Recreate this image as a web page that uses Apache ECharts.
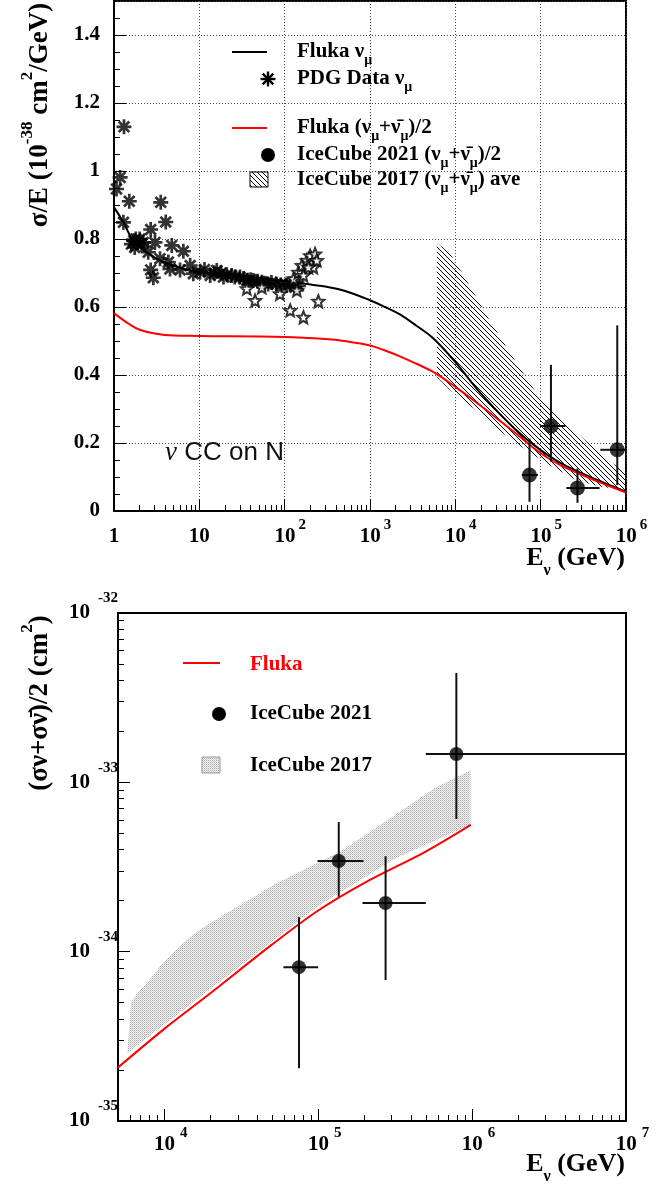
<!DOCTYPE html>
<html><head><meta charset="utf-8">
<script src="https://cdn.jsdelivr.net/npm/echarts@6/dist/echarts.min.js"></script>
<style>html,body{margin:0;padding:0;background:#fff}#c{width:672px;height:1184px}</style>
</head><body><div id="c"></div>
<script>
// ================= DATA =================
// --- Top panel: sigma/E in 1e-38 cm^2/GeV vs E (GeV) ---
const flukaNumuE   = [1, 1.29, 1.68, 2.41, 3.46, 4.96, 10, 36, 127, 217, 300, 500, 1000, 1500, 2240, 3500, 5500, 1e4, 2e4, 5e4, 1e5, 2e5, 1e6];
const flukaNumuSig = [0.893, 0.849, 0.795, 0.761, 0.737, 0.722, 0.702, 0.69, 0.673, 0.665, 0.66, 0.648, 0.62, 0.60, 0.578, 0.545, 0.508, 0.438, 0.345, 0.241, 0.179, 0.132, 0.057];
const flukaAvgE    = [1, 1.5, 2, 3, 5, 10, 100, 300, 500, 1000, 1500, 2240, 3500, 5500, 1e4, 2e4, 5e4, 1e5, 2e5, 1e6];
const flukaAvgSig  = [0.582, 0.55, 0.533, 0.522, 0.516, 0.515, 0.512, 0.506, 0.50, 0.487, 0.472, 0.455, 0.433, 0.409, 0.365, 0.309, 0.23, 0.17, 0.126, 0.054];

const pdgStarE = [1.07,1.18,1.31,1.51,1.29,3.53,4.04,2.69,1.6,1.7,1.8,1.9,2.0,2.1,2.2,1.75,3.02,4.75,6.5,2.52,2.69,2.89,3.46,4.33,4.53,5.94,7.8,8.5,
  10.2,11.5,13.4,15,16,18,19.2,21,23.9,26,30,33,36,40,43,48,54,58,64,70,80,90,106,115,132,145];
const pdgStarV = [0.947,0.981,1.13,0.911,0.849,0.908,0.85,0.828,0.785,0.795,0.80,0.79,0.80,0.785,0.79,0.775,0.79,0.781,0.764,0.761,0.709,0.686,0.742,0.732,0.712,0.709,0.722,0.698,
  0.702,0.71,0.693,0.70,0.707,0.70,0.688,0.695,0.693,0.688,0.688,0.684,0.678,0.68,0.678,0.676,0.673,0.67,0.668,0.672,0.668,0.665,0.663,0.668,0.658,0.662];

const pdgOpenE = [36,45,54,88,116,139,166,127,145,159,182,199,227,217,238,248,190,166];
const pdgOpenV = [0.654,0.619,0.658,0.639,0.590,0.649,0.570,0.683,0.702,0.722,0.737,0.751,0.756,0.717,0.737,0.617,0.717,0.693];

const ic21E        = [7.4e4, 1.32e5, 2.7e5, 7.9e5];
const ic21SigE     = [0.106, 0.25, 0.068, 0.18];
const ic21SigELow  = [0.027, 0.145, 0.024, 0.076];
const ic21SigEHigh = [0.213, 0.43, 0.125, 0.546];
const ic21ELow     = [6.0e4, 9.8e4, 2.0e5, 5.0e5];
const ic21EHigh    = [9.3e4, 1.95e5, 4.9e5, 1.0e6];

const ic17UpE = [6070, 8700, 11900, 18600, 24500, 42000, 52700, 98600, 2.0e5, 5.0e5, 1e6];
const ic17UpV = [0.79, 0.756, 0.702, 0.619, 0.566, 0.473, 0.434, 0.331, 0.257, 0.169, 0.11];
const ic17LoE = [6070, 8700, 18600, 36600, 68000, 1.26e5, 2.6e5, 5e5, 1e6];
const ic17LoV = [0.394, 0.355, 0.291, 0.228, 0.179, 0.135, 0.091, 0.071, 0.062];

// --- Bottom panel: (sigma_nu+sigma_nubar)/2 in units of 1e-38 cm^2 vs E (GeV) ---
const botFlukaE   = [5000, 1e4, 2e4, 5e4, 1e5, 2e5, 5e5, 9.8e5];
const botFlukaSig = [2070, 3500, 5700, 11000, 17500, 25500, 39000, 56000];

const botBandUpE = [6070, 6600, 7980, 9500, 11900, 15000, 19630, 32280, 53330, 97050, 144500, 352400, 579400, 977000];
const botBandUpV = [4955, 5600, 6790, 8300, 10210, 12400, 14690, 19280, 25290, 33190, 39810, 68550, 93330, 118000];
const botBandLoE = [5750, 10000, 31620, 100000, 316200, 977000];
const botBandLoV = [2512, 3715, 8318, 18620, 35480, 56230];

const botIcE       = [7.5e4, 1.36e5, 2.74e5, 7.9e5];
const botIcSig     = [8100, 34300, 19400, 147000];
const botIcSigLow  = [2050, 21100, 6790, 60700];
const botIcSigHigh = [16000, 58200, 36600, 442600];
const botIcELow    = [5.94e4, 9.9e4, 1.94e5, 5.0e5];
const botIcEHigh   = [1.0e5, 1.97e5, 5.0e5, 1e7];

// --- tick labels ---
const topXTickBase = ['1','10','10','10','10','10','10'];
const topXTickExp  = ['', '', '2','3','4','5','6'];
const topYTickLabels = ['0','0.2','0.4','0.6','0.8','1','1.2','1.4'];
const botXTickExp = {4:'4', 5:'5', 6:'6', 7:'7'};
const botYTickExp = {3:'-35', 4:'-34', 5:'-33', 6:'-32'};

// ================= STYLE HELPERS =================
const SERIF = '"Liberation Serif","Times New Roman",serif';
const SANS = '"Liberation Sans",Arial,sans-serif';

function hatchCanvas(){
  const c = document.createElement('canvas'); c.width = 5; c.height = 5;
  const g = c.getContext('2d');
  g.strokeStyle = '#000'; g.lineWidth = 1;
  g.beginPath();
  g.moveTo(-1,-1); g.lineTo(6,6);
  g.moveTo(4,-1); g.lineTo(6,1);
  g.moveTo(-1,4); g.lineTo(1,6);
  g.stroke();
  return c;
}
function dotCanvas(){
  const c = document.createElement('canvas'); c.width = 2; c.height = 2;
  const g = c.getContext('2d');
  g.fillStyle = '#f4f4f4'; g.fillRect(0,0,2,2);
  g.fillStyle = '#a8a8a8'; g.fillRect(0,0,1,1);
  g.fillStyle = '#cfcfcf'; g.fillRect(1,1,1,1);
  return c;
}
const HATCH = {image: hatchCanvas(), repeat: 'repeat'};
const DOTS = {image: dotCanvas(), repeat: 'repeat'};

const ASTERISK = 'path://M-1.8,-10L1.8,-10L1.8,10L-1.8,10Z M-10,-1.8L10,-1.8L10,1.8L-10,1.8Z M-8.344,-5.798L-5.798,-8.344L8.344,5.798L5.798,8.344Z M-5.798,8.344L-8.344,5.798L5.798,-8.344L8.344,-5.798Z';
const OPENSTAR = 'path://M0,-10L2.6,-3.6L9.51,-3.09L4.2,1.4L5.88,8.09L0,4.5L-5.88,8.09L-4.2,1.4L-9.51,-3.09L-2.6,-3.6Z';

const zip = (a,b) => a.map((v,i)=>[v,b[i]]);

function bandSeries(xi, yi, upE, upV, loE, loV, fill){
  return {
    type:'custom', xAxisIndex:xi, yAxisIndex:yi, silent:true, z:1,
    data: zip(upE, upV),
    renderItem(params, api){
      if (params.dataIndex !== 0) return null;
      const pts = upE.map((e,i)=>api.coord([e, upV[i]]));
      const lo = loE.map((e,i)=>api.coord([e, loV[i]])).reverse();
      return {type:'polygon', shape:{points: pts.concat(lo)}, style:{fill: fill, stroke: null}};
    }
  };
}
function errSeries(xi, yi, E, V, VL, VH, EL, EH){
  return {
    type:'custom', xAxisIndex:xi, yAxisIndex:yi, silent:true, z:4,
    data: E.map((e,i)=>[e, V[i], VL[i], VH[i], EL[i], EH[i]]),
    encode:{x:[0,4,5], y:[1,2,3]},
    renderItem(params, api){
      const x = api.value(0), y = api.value(1);
      const lo = api.coord([x, api.value(2)]), hi = api.coord([x, api.value(3)]);
      const l = api.coord([api.value(4), y]), r = api.coord([api.value(5), y]);
      const st = {stroke:'#111', lineWidth:2};
      return {type:'group', children:[
        {type:'line', shape:{x1:lo[0],y1:lo[1],x2:hi[0],y2:hi[1]}, style:st},
        {type:'line', shape:{x1:l[0],y1:l[1],x2:r[0],y2:r[1]}, style:st}
      ]};
    }
  };
}

const log10 = Math.log10;
function minorLog(a, b){ // minor tick positions (in log10 space) between decades a..b
  const out = [];
  for (let d=a; d<b; d++) for (let k=2; k<=9; k++) out.push(d + log10(k));
  return out;
}
const dotted = {type:[1,2], color:'#444', width:1};
const blackLine = {color:'#000', width:2};

// label rich styles (token 'height' + verticalAlign top -> controls vertical centre)
const axRich = {
  n:{fontFamily:SERIF, fontWeight:'bold', fontSize:21, height:30, verticalAlign:'top', color:'#000'},
  p:{fontFamily:SERIF, fontWeight:'bold', fontSize:15, height:6, verticalAlign:'top', color:'#000', padding:[0,0,0,3]},
  sp:{width:11, height:30, verticalAlign:'top'}
};
const axRichB = {
  n:{fontFamily:SERIF, fontWeight:'bold', fontSize:21, height:30, verticalAlign:'top', color:'#000'},
  p:{fontFamily:SERIF, fontWeight:'bold', fontSize:15, height:6, verticalAlign:'top', color:'#000', padding:[0,0,0,5]},
  sp:{width:13, height:30, verticalAlign:'top'}
};
const ayRichB = {
  n:{fontFamily:SERIF, fontWeight:'bold', fontSize:21, height:30, verticalAlign:'top', color:'#000'},
  p:{fontFamily:SERIF, fontWeight:'bold', fontSize:15, height:1, verticalAlign:'top', color:'#000', padding:[0,0,0,8]}
};

// ================= CHART =================
const chart = echarts.init(document.getElementById('c'), null, {renderer:'canvas'});

const legRich = {
  n:{fontFamily:SERIF, fontWeight:'bold', fontSize:21, height:24, verticalAlign:'top', fill:'#000'},
  s:{fontFamily:SERIF, fontWeight:'bold', fontSize:14, height:40, verticalAlign:'top', fill:'#000'},
  r:{fontFamily:SERIF, fontWeight:'bold', fontSize:21, height:24, verticalAlign:'top', fill:'#ff0000'}
};
function legText(x, yc, text){
  return {type:'text', x:x, y:yc-12, z:100, style:{text:text, rich:legRich, fill:'#000', align:'left', verticalAlign:'top'}};
}
function asteriskLines(cx, cy, r){
  const d = r*0.7071, st = {stroke:'#000', lineWidth:2.4};
  return [
    {type:'line', z:100, shape:{x1:cx-r,y1:cy,x2:cx+r,y2:cy}, style:st},
    {type:'line', z:100, shape:{x1:cx,y1:cy-r,x2:cx,y2:cy+r}, style:st},
    {type:'line', z:100, shape:{x1:cx-d,y1:cy-d,x2:cx+d,y2:cy+d}, style:st},
    {type:'line', z:100, shape:{x1:cx-d,y1:cy+d,x2:cx+d,y2:cy-d}, style:st}
  ];
}
const titleRich = {
  t:{fontFamily:SERIF, fontWeight:'bold', fontSize:27, height:30, verticalAlign:'top', fill:'#000'},
  p:{fontFamily:SERIF, fontWeight:'bold', fontSize:17, height:6, verticalAlign:'top', fill:'#000'}
};
const xTitleRich = {
  t:{fontFamily:SERIF, fontWeight:'bold', fontSize:26, height:30, verticalAlign:'top', fill:'#000'},
  s:{fontFamily:SERIF, fontWeight:'bold', fontSize:16, height:56, verticalAlign:'top', fill:'#000'}
};

const graphics = [
  // top legend
  {type:'line', z:100, shape:{x1:232,y1:52,x2:267,y2:52}, style:{stroke:'#000', lineWidth:2}},
  ...asteriskLines(268, 79, 7.5),
  {type:'line', z:100, shape:{x1:232,y1:128,x2:267,y2:128}, style:{stroke:'#ff0000', lineWidth:2}},
  {type:'circle', z:100, shape:{cx:268, cy:155, r:7}, style:{fill:'#000'}},
  {type:'rect', z:100, shape:{x:250, y:172, width:18, height:15}, style:{fill:HATCH, stroke:'#000', lineWidth:1}},
  legText(297, 52, '{n|Fluka ν}{s|μ}'),
  legText(297, 79, '{n|PDG Data ν}{s|μ}'),
  legText(297, 128, '{n|Fluka (ν}{s|μ}{n|+ν\u0304}{s|μ}{n|)/2}'),
  legText(297, 155, '{n|IceCube 2021 (ν}{s|μ}{n|+ν\u0304}{s|μ}{n|)/2}'),
  legText(297, 180, '{n|IceCube 2017 (ν}{s|μ}{n|+ν\u0304}{s|μ}{n|) ave}'),
  // bottom legend
  {type:'line', z:100, shape:{x1:183,y1:663,x2:220,y2:663}, style:{stroke:'#ff0000', lineWidth:2}},
  {type:'circle', z:100, shape:{cx:219, cy:714, r:7}, style:{fill:'#000'}},
  {type:'rect', z:100, shape:{x:202, y:757, width:18, height:16}, style:{fill:DOTS, stroke:'#999', lineWidth:1}},
  legText(250, 665, '{r|Fluka}'),
  legText(250, 714, '{n|IceCube 2021}'),
  legText(250, 766, '{n|IceCube 2017}'),
  // axis titles
  {type:'text', z:100, x:40, y:115, rotation:Math.PI/2,
   style:{text:'{t|σ/E (10}{p|-38}{t| cm}{p|2}{t|/GeV)}', rich:titleRich, align:'center', verticalAlign:'middle', fill:'#000'}},
  {type:'text', z:100, x:40, y:703, rotation:Math.PI/2,
   style:{text:'{t|(σν+σν\u0304)/2 (cm}{p|2}{t|)}', rich:titleRich, align:'center', verticalAlign:'middle', fill:'#000'}},
  {type:'text', z:100, x:625, y:558-15,
   style:{text:'{t|E}{s|ν}{t| (GeV)}', rich:xTitleRich, align:'right', verticalAlign:'top', fill:'#000'}},
  {type:'text', z:100, x:625, y:1164-15,
   style:{text:'{t|E}{s|ν}{t| (GeV)}', rich:xTitleRich, align:'right', verticalAlign:'top', fill:'#000'}},
  // annotation
  {type:'text', z:100, x:165, y:453,
   style:{text:'{g|ν}{c| CC on N}', rich:{
     g:{fontFamily:SERIF, fontStyle:'italic', fontSize:27, fill:'#111'},
     c:{fontFamily:SANS, fontSize:26, fill:'#111'}},
     align:'left', verticalAlign:'middle', fill:'#111'}}
];

const option = {
  animation:false,
  backgroundColor:'#fff',
  grid:[
    {left:114, top:1, width:512, height:510, show:true, borderColor:'#000', borderWidth:2},
    {left:118, top:613, width:508, height:508, show:true, borderColor:'#000', borderWidth:2}
  ],
  xAxis:[
    {gridIndex:0, type:'log', logBase:10, min:1, max:1e6, splitNumber:6, position:'bottom',
     axisLine:{show:true, onZero:false, lineStyle:blackLine},
     axisTick:{show:true, inside:true, length:12, lineStyle:{color:'#000', width:1}},
     splitLine:{show:true, lineStyle:dotted},
     axisLabel:{interval:0, margin:11, color:'#000', fontFamily:SERIF, fontWeight:'bold', fontSize:21,
       formatter:(v)=>{ const lk = log10(v), k = Math.round(lk); if (Math.abs(lk-k)>0.01) return '';
         const e = topXTickExp[k]; return e ? `{sp| }{n|${topXTickBase[k]}}{p|${e}}` : `{n|${topXTickBase[k]}}`; },
       rich:axRich}},
    {gridIndex:0, type:'value', min:0, max:6, position:'bottom',
     axisLine:{show:false, onZero:false}, axisLabel:{show:false}, splitLine:{show:false},
     axisTick:{show:true, inside:true, length:6, lineStyle:{color:'#000', width:1}, customValues:minorLog(0,6)}},
    {gridIndex:1, type:'log', logBase:10, min:5000, max:1e7, splitNumber:3, position:'bottom',
     axisLine:{show:true, onZero:false, lineStyle:blackLine},
     axisTick:{show:true, inside:true, length:12, lineStyle:{color:'#000', width:1}},
     splitLine:{show:false},
     axisLabel:{interval:0, margin:9, color:'#000', fontFamily:SERIF, fontWeight:'bold', fontSize:21,
       formatter:(v)=>{ const lk = log10(v), k = Math.round(lk); if (Math.abs(lk-k)>0.01 || !botXTickExp[k]) return '';
         return `{sp| }{n|10}{p|${botXTickExp[k]}}`; },
       rich:axRichB}},
    {gridIndex:1, type:'value', min:log10(5000), max:7, position:'bottom',
     axisLine:{show:false, onZero:false}, axisLabel:{show:false}, splitLine:{show:false},
     axisTick:{show:true, inside:true, length:6, lineStyle:{color:'#000', width:1}, customValues:minorLog(3,7).filter(v=>v>log10(5000)+1e-6)}}
  ],
  yAxis:[
    {gridIndex:0, type:'value', min:0, max:1.5, interval:0.2, position:'left',
     axisLine:{show:true, onZero:false, lineStyle:blackLine},
     axisTick:{show:true, inside:true, length:12, lineStyle:{color:'#000', width:1}},
     splitLine:{show:true, lineStyle:dotted},
     axisLabel:{showMaxLabel:false, margin:14, color:'#000', fontFamily:SERIF, fontWeight:'bold', fontSize:21,
       formatter:(v)=>{ const i = Math.round(v/0.2); return (Math.abs(v/0.2-i)<1e-6 && topYTickLabels[i]) ? topYTickLabels[i] : ''; }}},
    {gridIndex:0, type:'value', min:0, max:1.5, position:'left',
     axisLine:{show:false, onZero:false}, axisLabel:{show:false}, splitLine:{show:false},
     axisTick:{show:true, inside:true, length:6, lineStyle:{color:'#000', width:1},
       customValues:[0.05,0.1,0.15,0.25,0.3,0.35,0.45,0.5,0.55,0.65,0.7,0.75,0.85,0.9,0.95,1.05,1.1,1.15,1.25,1.3,1.35,1.45]}},
    {gridIndex:1, type:'log', logBase:10, min:1e3, max:1e6, splitNumber:3, position:'left',
     axisLine:{show:true, onZero:false, lineStyle:blackLine},
     axisTick:{show:true, inside:true, length:12, lineStyle:{color:'#000', width:1}},
     splitLine:{show:false},
     axisLabel:{margin:0, color:'#000', fontFamily:SERIF, fontWeight:'bold', fontSize:21,
       formatter:(v)=>{ const lk = log10(v), k = Math.round(lk); if (Math.abs(lk-k)>0.01 || !botYTickExp[k]) return '';
         return `{n|10}{p|${botYTickExp[k]}}`; },
       rich:ayRichB}},
    {gridIndex:1, type:'value', min:3, max:6, position:'left',
     axisLine:{show:false, onZero:false}, axisLabel:{show:false}, splitLine:{show:false},
     axisTick:{show:true, inside:true, length:6, lineStyle:{color:'#000', width:1}, customValues:minorLog(3,6)}}
  ],
  series:[
    // ---- top ----
    bandSeries(0, 0, ic17UpE, ic17UpV, ic17LoE, ic17LoV, HATCH),
    {type:'line', xAxisIndex:0, yAxisIndex:0, data:zip(flukaNumuE, flukaNumuSig), smooth:0.4, showSymbol:false, z:3,
     lineStyle:{color:'#000', width:2}},
    {type:'line', xAxisIndex:0, yAxisIndex:0, data:zip(flukaAvgE, flukaAvgSig), smooth:0.4, showSymbol:false, z:3,
     lineStyle:{color:'#ff0000', width:2}},
    {type:'scatter', xAxisIndex:0, yAxisIndex:0, data:zip(pdgStarE, pdgStarV), symbol:ASTERISK, symbolSize:15, z:4,
     itemStyle:{color:'#000'}},
    {type:'scatter', xAxisIndex:0, yAxisIndex:0, data:zip(pdgOpenE, pdgOpenV), symbol:OPENSTAR, symbolSize:12, z:5,
     itemStyle:{color:'#fff', borderColor:'#000', borderWidth:2}},
    errSeries(0, 0, ic21E, ic21SigE, ic21SigELow, ic21SigEHigh, ic21ELow, ic21EHigh),
    {type:'scatter', xAxisIndex:0, yAxisIndex:0, data:zip(ic21E, ic21SigE), symbol:'circle', symbolSize:15, z:6,
     itemStyle:{color:'#000'}},
    // ---- bottom ----
    bandSeries(2, 2, botBandUpE, botBandUpV, botBandLoE, botBandLoV, DOTS),
    {type:'line', xAxisIndex:2, yAxisIndex:2, data:zip(botFlukaE, botFlukaSig), smooth:0.3, showSymbol:false, z:3,
     lineStyle:{color:'#ff0000', width:2}},
    errSeries(2, 2, botIcE, botIcSig, botIcSigLow, botIcSigHigh, botIcELow, botIcEHigh),
    {type:'scatter', xAxisIndex:2, yAxisIndex:2, data:zip(botIcE, botIcSig), symbol:'circle', symbolSize:14, z:6,
     itemStyle:{color:'#000'}}
  ],
  graphic: graphics
};
chart.setOption(option);
</script>
</body></html>
